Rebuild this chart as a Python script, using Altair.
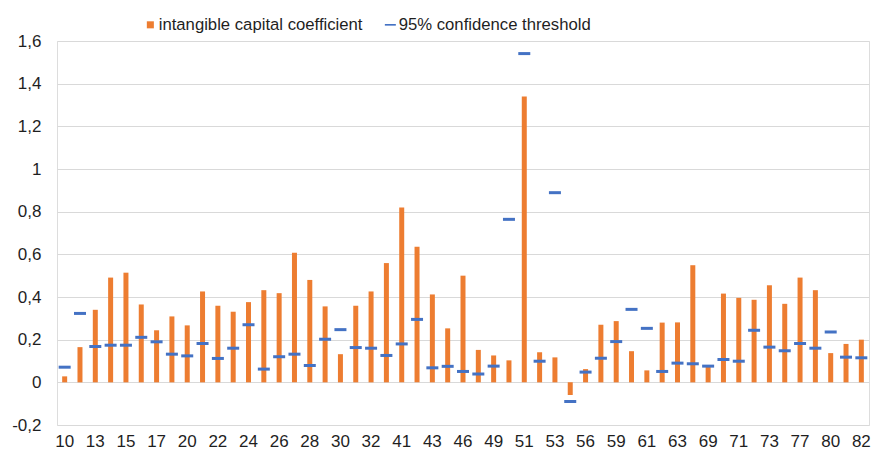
import altair as alt
import pandas as pd

CATS = ["10","11","13","14","15","16","17","18","20","21","22","23","24","25","26","27","28","29","30","31","32","33",
        "41","42","43","45","46","47","49","50","51","52","53","55","56","58","59","60","61","62","63","68","69",
        "70","71","72","73","74","77","78","80","81","82"]
SHOWN = CATS[::2]
COEF = [0.028,0.165,0.340,0.491,0.514,0.365,0.244,0.309,
        0.267,0.426,0.359,0.331,0.376,0.432,0.418,0.608,0.480,0.356,0.132,0.359,0.426,0.559,
        0.820,0.636,0.412,0.253,0.500,0.152,0.126,
        0.103,1.340,0.141,0.117,-0.059,0.062,0.270,0.287,
        0.146,0.056,0.280,0.281,0.549,0.073,
        0.416,0.396,0.387,0.455,0.368,0.491,0.432,
        0.137,0.180,0.200]
THRESH = [0.071,0.323,0.168,0.174,0.174,0.211,0.190,0.132,
          0.124,0.182,0.112,0.160,0.270,0.062,0.120,0.132,0.079,0.202,0.247,0.163,0.160,0.126,
          0.180,0.295,0.068,0.075,0.051,0.039,0.076,
          0.764,1.541,0.099,0.889,-0.090,0.048,0.113,0.191,
          0.342,0.253,0.051,0.090,0.087,0.076,
          0.107,0.099,0.244,0.165,0.148,0.182,0.160,
          0.236,0.118,0.115]
SERIES = ["intangible capital coefficient", "95% confidence threshold"]
Y_TICKS = [-0.2, 0, 0.2, 0.4, 0.6, 0.8, 1, 1.2, 1.4, 1.6]

ORANGE = "#ED7D31"
BLUE = "#4472C4"
FONT = "Liberation Sans"
TXT = "#1f1f1f"

df = pd.DataFrame({"cat": CATS, "coef": COEF, "thr": THRESH})
leg = pd.DataFrame({"series": SERIES, "ly": [None, None]})

x = alt.X("cat:N", sort=CATS, title=None,
          scale=alt.Scale(paddingInner=0, paddingOuter=0),
          axis=alt.Axis(values=SHOWN, labelAngle=0, labelFontSize=17, labelFont=FONT,
                        labelColor=TXT, ticks=False, domain=False, grid=False, labelPadding=8))
yscale = alt.Scale(domain=[-0.2, 1.6], nice=False, zero=False)

bars = alt.Chart(df).mark_bar(size=5, color=ORANGE, opacity=1).encode(
    x=x,
    y=alt.Y("coef:Q", scale=yscale, title=None,
            axis=alt.Axis(values=Y_TICKS, labelExpr="replace(toString(datum.value), '.', ',')",
                          labelFontSize=17, labelFont=FONT, labelColor=TXT, ticks=False,
                          domain=False, gridColor="#d9d9d9", gridWidth=1, labelPadding=16)),
)

ticks = alt.Chart(df).mark_tick(size=12, thickness=3, color=BLUE, opacity=1).encode(
    x=alt.X("cat:N", sort=CATS),
    y=alt.Y("thr:Q", scale=yscale),
)

LEG = dict(title=None, orient="none", legendX=85, legendY=-25,
           direction="horizontal", labelFontSize=16.7, labelFont=FONT, labelLimit=0,
           labelColor=TXT, symbolSize=121, symbolOpacity=1,
           symbolStrokeWidth=0, labelOffset=0, columnPadding=19)

legend_layer = alt.Chart(leg).mark_point(filled=True, opacity=1).encode(
    y=alt.Y("ly:Q", scale=yscale),
    color=alt.Color("series:N", scale=alt.Scale(domain=SERIES, range=[ORANGE, BLUE]),
                    legend=alt.Legend(**LEG)),
    shape=alt.Shape("series:N", scale=alt.Scale(domain=SERIES,
                    range=["M-0.64,-0.64H0.64V0.64H-0.64Z", "M-1,-0.15H1V0.15H-1Z"]),
                    legend=alt.Legend(**LEG)),
)

chart = alt.layer(bars, ticks, legend_layer).properties(
    width=812, height=384,
    autosize=alt.AutoSizeParams(type="none"),
    padding={"left": 49, "top": 33, "right": 3, "bottom": 30},
).configure_view(stroke=None).configure(background="white")

chart.save("out.html", embed_options={"renderer": "svg", "actions": False})
